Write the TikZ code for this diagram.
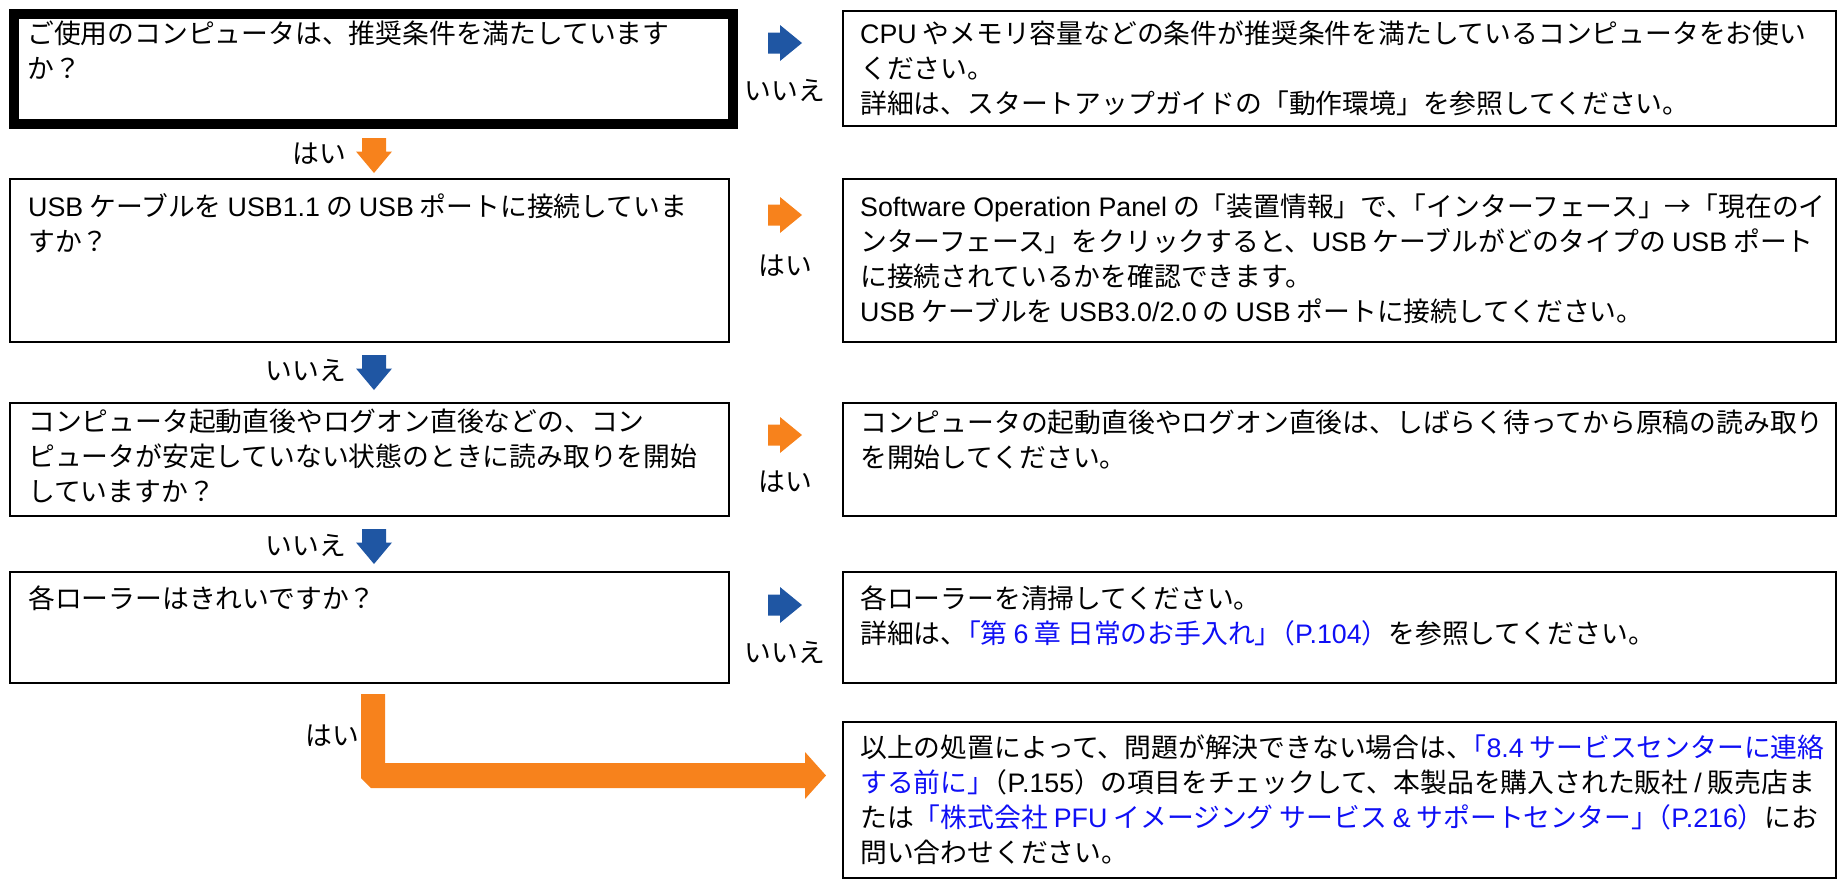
\documentclass[tikz,border=0pt]{standalone}
\usepackage{fontspec}
\setmainfont{Noto Sans CJK JP}
\newfontfamily\latfont{Liberation Sans}
\newcommand\la[1]{{\latfont #1}}
\newcommand\cq{\kern-0.5em}
\definecolor{orng}{RGB}{247,130,28}
\definecolor{barrow}{RGB}{31,86,163}
\definecolor{lnk}{RGB}{15,15,245}
\newcommand\lk[1]{\textcolor{lnk}{#1}}
\newcommand\tb[1]{\parbox[t]{1000pt}{\fontsize{26.8}{35.2}\selectfont\raggedright #1}}
\newcommand\rarr[2]{\fill[#1] (768,#2-10.5) -- (780,#2-10.5) -- (780,#2-18) -- (802,#2) -- (780,#2+18) -- (780,#2+10.5) -- (768,#2+10.5) -- cycle;}
\newcommand\darr[2]{\fill[#1] (362,#2) -- (386,#2) -- (386,#2+13.5) -- (392,#2+13.5) -- (374,#2+35) -- (356,#2+13.5) -- (362,#2+13.5) -- cycle;}
\tikzset{
 thinbox/.style={draw=black, line width=2.4pt, inner sep=0pt, anchor=north west},
 thickbox/.style={draw=black, line width=10pt, inner sep=0pt, anchor=north west},
 txt/.style={anchor=base west, inner sep=0pt},
 lbl/.style={inner sep=0pt, font=\fontsize{26.8}{35}\selectfont},
}
\begin{document}
\begin{tikzpicture}[x=1pt,y=-1pt]
\useasboundingbox (0,0) rectangle (1838,879);
% boxes
\node[thickbox, minimum width=719pt, minimum height=110pt] (q1) at (9,9) {};
\node[thinbox, minimum width=993pt, minimum height=115pt] (r1) at (842,10) {};
\node[thinbox, minimum width=719pt, minimum height=163pt] (q2) at (9,178) {};
\node[thinbox, minimum width=993pt, minimum height=163pt] (r2) at (842,178) {};
\node[thinbox, minimum width=719pt, minimum height=113pt] (q3) at (9,402) {};
\node[thinbox, minimum width=993pt, minimum height=113pt] (r3) at (842,402) {};
\node[thinbox, minimum width=719pt, minimum height=111pt] (q4) at (9,571) {};
\node[thinbox, minimum width=993pt, minimum height=111pt] (r4) at (842,571) {};
\node[thinbox, minimum width=993pt, minimum height=156pt] (r5) at (842,721) {};
% texts
\node[txt] (t1) at (27,43) {\tb{ご使用のコンピュータは、推奨条件を満たしています\\か？}};
\node[txt] (u1) at (860,43) {\tb{\la{CPU} やメモリ容量などの条件が推奨条件を満たしているコンピュータをお使い\\ください。\\詳細は、スタートアップガイドの「動作環境」を参照してください。}};
\node[txt] (t2) at (28,216) {\tb{\la{USB} ケーブルを \la{USB1.1} の \la{USB} ポートに接続していま\\すか？}};
\node[txt] (u2) at (860,216) {\tb{\la{Software Operation Panel} の「装置情報」で、\cq「インターフェース」→「現在のイ\\ンターフェース」をクリックすると、\la{USB} ケーブルがどのタイプの \la{USB} ポート\\に接続されているかを確認できます。\\\la{USB} ケーブルを \la{USB3.0/2.0} の \la{USB} ポートに接続してください。}};
\node[txt] (t3) at (28,431) {\tb{コンピュータ起動直後やログオン直後などの、コン\\ピュータが安定していない状態のときに読み取りを開始\\していますか？}};
\node[txt] (u3) at (860,432) {\tb{コンピュータの起動直後やログオン直後は、しばらく待ってから原稿の読み取り\\を開始してください。}};
\node[txt] (t4) at (28,608) {\tb{各ローラーはきれいですか？}};
\node[txt] (u4) at (860,608) {\tb{各ローラーを清掃してください。\\詳細は、\cq\lk{「第 \la{6} 章 日常のお手入れ」\cq（\la{P.104}）}を参照してください。}};
\node[txt] (u5) at (860,757) {\tb{以上の処置によって、問題が解決できない場合は、\cq\lk{「\la{8.4} サービスセンターに連絡}\\\lk{する前に」}\cq（\la{P.155}）の項目をチェックして、本製品を購入された販社 \la{/} 販売店ま\\たは\lk{「株式会社 \la{PFU} イメージング サービス \la{\&} サポートセンター」\cq（\la{P.216}）}にお\\問い合わせください。}};
% right arrows
\rarr{barrow}{43}
\rarr{orng}{215}
\rarr{orng}{435}
\rarr{barrow}{605}
\node[lbl] (l1) at (785,90) {いいえ};
\node[lbl] (l2) at (785,266) {はい};
\node[lbl] (l3) at (785,482) {はい};
\node[lbl] (l4) at (785,652) {いいえ};
% down arrows
\darr{orng}{138}
\darr{barrow}{355}
\darr{barrow}{529}
\node[lbl, anchor=east] (d1) at (346,154) {はい};
\node[lbl, anchor=east] (d2) at (346,370) {いいえ};
\node[lbl, anchor=east] (d3) at (346,545) {いいえ};
% L arrow
\fill[orng] (361,694) -- (385,694) -- (385,763) -- (805,763) -- (805,752) -- (826,775.5) -- (805,799) -- (805,788) -- (371,788) -- (361,778) -- cycle;
\node[lbl] (d4) at (332,736) {はい};
\end{tikzpicture}
\end{document}
